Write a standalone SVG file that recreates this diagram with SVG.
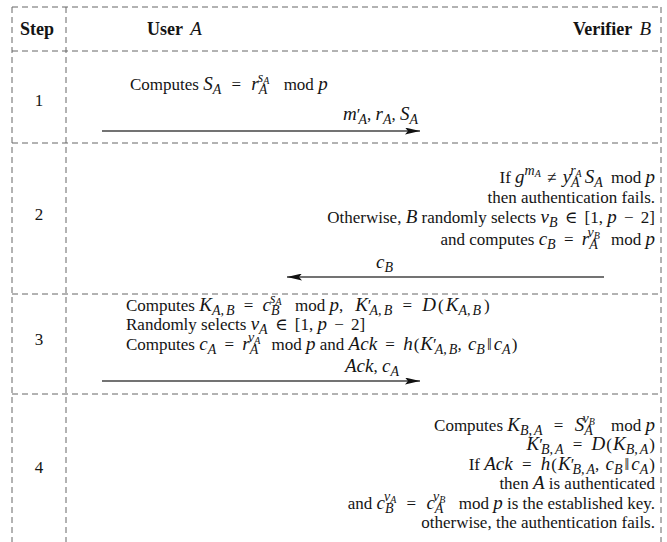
<svg xmlns="http://www.w3.org/2000/svg" width="667" height="542" viewBox="0 0 667 542" font-family="'Liberation Serif', 'Times New Roman', 'DejaVu Serif', serif">
<style>
text{font-family:'Liberation Serif','Times New Roman','DejaVu Serif',serif}
.t{font-size:17px;fill:#141414}
.h{font-size:18px}
.b{font-weight:bold}
.m{font-style:italic;font-size:19px}
.s{font-style:italic;font-size:14px}
.ss{font-style:italic;font-size:10px}
.g line{stroke:#666;stroke-width:1;stroke-dasharray:6 4;fill:none}
.c line{stroke:#444;stroke-width:1.6}
</style>
<defs>
<marker id="ah" viewBox="0 0 15 7" refX="15" refY="3.5" markerWidth="15" markerHeight="7" markerUnits="userSpaceOnUse" orient="auto">
<path d="M0,0 L15,3.5 L0,7 L3,3.5 Z" fill="#111"/>
</marker>
</defs>
<g id="grid" class="g">
<line x1="12" y1="7" x2="661" y2="7"/>
<line x1="12" y1="7" x2="12" y2="542"/>
<line x1="66" y1="7" x2="66" y2="542"/>
<line x1="661" y1="7" x2="661" y2="542"/>
<line x1="12" y1="51" x2="661" y2="51"/>
<line x1="12" y1="143" x2="661" y2="143"/>
<line x1="12" y1="294" x2="661" y2="294"/>
<line x1="12" y1="394" x2="661" y2="394"/>
</g>
<g id="header" class="t h">
<text x="20" y="35" class="b">Step</text>
<text x="147" y="35"><tspan class="b">User </tspan><tspan class="m" dx="3">A</tspan></text>
<text x="651" y="35" text-anchor="end"><tspan class="b">Verifier </tspan><tspan class="m" dx="3">B</tspan></text>
</g>
<g id="steps" class="t" text-anchor="middle">
<text x="39" y="106">1</text>
<text x="39" y="220">2</text>
<text x="39" y="345">3</text>
<text x="39" y="473">4</text>
</g>
<g id="step1-userA" class="t">
<text x="130" y="90">Computes <tspan class="m">S</tspan><tspan class="s" dy="4">A</tspan><tspan dy="-4" dx="6"> = </tspan><tspan class="m" dx="6">r</tspan><tspan class="s" dy="4">A</tspan><tspan class="s" dx="-9.5" dy="-12">s</tspan><tspan class="ss" dy="2">A</tspan><tspan dy="6" dx="10"> mod </tspan><tspan class="m">p</tspan></text>
</g>
<g id="step2-verifierB" class="t" text-anchor="end">
<text x="655" y="183">If <tspan class="m">g</tspan><tspan class="s" dy="-8">m</tspan><tspan class="ss" dy="2">A</tspan><tspan dy="6" dx="2"> ≠ </tspan><tspan class="m" dx="2">y</tspan><tspan class="s" dy="4">A</tspan><tspan class="s" dx="-9.5" dy="-12">r</tspan><tspan class="ss" dy="2">A</tspan><tspan class="m" dy="6" dx="3">S</tspan><tspan class="s" dy="4">A</tspan><tspan dy="-4" dx="4"> mod </tspan><tspan class="m">p</tspan></text>
<text x="655" y="203">then authentication fails.</text>
<text x="655" y="223">Otherwise, <tspan class="m">B</tspan> randomly selects <tspan class="m">v</tspan><tspan class="s" dy="4">B</tspan><tspan dy="-4" dx="3"> ∈ </tspan><tspan dx="3">[1, </tspan><tspan class="m">p</tspan><tspan dx="3"> − </tspan><tspan dx="3">2]</tspan></text>
<text x="655" y="245">and computes <tspan class="m">c</tspan><tspan class="s" dy="4">B</tspan><tspan dy="-4" dx="4"> = </tspan><tspan class="m" dx="4">r</tspan><tspan class="s" dy="4">A</tspan><tspan class="s" dx="-9.5" dy="-12">v</tspan><tspan class="ss" dy="2">B</tspan><tspan dy="6" dx="7"> mod </tspan><tspan class="m">p</tspan></text>
</g>
<g id="step3-userA" class="t">
<text x="126" y="311">Computes <tspan class="m">K</tspan><tspan class="s" dy="4">A,<tspan dx="2">B</tspan></tspan><tspan dy="-4" dx="5"> = </tspan><tspan class="m" dx="5">c</tspan><tspan class="s" dy="4">B</tspan><tspan class="s" dx="-9.5" dy="-12">s</tspan><tspan class="ss" dy="2">A</tspan><tspan dy="6" dx="9"> mod </tspan><tspan class="m">p</tspan>,<tspan class="m" dx="12">K</tspan>′<tspan class="s" dx="-2" dy="4">A,<tspan dx="2">B</tspan></tspan><tspan dy="-4" dx="6"> = </tspan><tspan class="m" dx="6">D</tspan><tspan dx="2">(</tspan><tspan class="m" dx="2">K</tspan><tspan class="s" dy="4">A,<tspan dx="2">B</tspan></tspan><tspan dy="-4" dx="3">)</tspan></text>
<text x="126" y="330">Randomly selects <tspan class="m">v</tspan><tspan class="s" dy="4">A</tspan><tspan dy="-4" dx="3"> ∈ </tspan><tspan dx="3">[1, </tspan><tspan class="m">p</tspan><tspan dx="3"> − </tspan><tspan dx="3">2]</tspan></text>
<text x="126" y="350">Computes <tspan class="m">c</tspan><tspan class="s" dy="4">A</tspan><tspan dy="-4" dx="4"> = </tspan><tspan class="m" dx="4">r</tspan><tspan class="s" dy="4">A</tspan><tspan class="s" dx="-9.5" dy="-12">v</tspan><tspan class="ss" dy="2">A</tspan><tspan dy="6" dx="7"> mod </tspan><tspan class="m">p</tspan> and <tspan class="m">Ack</tspan><tspan dx="4"> = </tspan><tspan class="m" dx="4">h</tspan><tspan dx="1">(</tspan><tspan class="m" dx="1">K</tspan>′<tspan class="s" dx="-2" dy="4">A,<tspan dx="2">B</tspan></tspan><tspan dy="-4">, </tspan><tspan class="m" dx="2">c</tspan><tspan class="s" dy="4">B</tspan><tspan dy="-4" dx="2">‖</tspan><tspan class="m" dx="2">c</tspan><tspan class="s" dy="4">A</tspan><tspan dy="-4" dx="1">)</tspan></text>
</g>
<g id="step4-verifierB" class="t" text-anchor="end">
<text x="655" y="431">Computes <tspan class="m">K</tspan><tspan class="s" dy="4">B,<tspan dx="2">A</tspan></tspan><tspan dy="-4" dx="7"> = </tspan><tspan class="m" dx="7">S</tspan><tspan class="s" dy="4">A</tspan><tspan class="s" dx="-9.5" dy="-12">v</tspan><tspan class="ss" dy="2">B</tspan><tspan dy="6" dx="12"> mod </tspan><tspan class="m">p</tspan></text>
<text x="655" y="450"><tspan class="m">K</tspan>′<tspan class="s" dx="-2" dy="4">B,<tspan dx="2">A</tspan></tspan><tspan dy="-4" dx="5"> = </tspan><tspan class="m" dx="5">D</tspan><tspan dx="1">(</tspan><tspan class="m" dx="1">K</tspan><tspan class="s" dy="4">B,<tspan dx="2">A</tspan></tspan><tspan dy="-4" dx="1">)</tspan></text>
<text x="655" y="470">If <tspan class="m">Ack</tspan><tspan dx="5"> = </tspan><tspan class="m" dx="5">h</tspan><tspan dx="1">(</tspan><tspan class="m" dx="1">K</tspan>′<tspan class="s" dx="-2" dy="4">B,<tspan dx="2">A</tspan></tspan><tspan dy="-4">, </tspan><tspan class="m" dx="2">c</tspan><tspan class="s" dy="4">B</tspan><tspan dy="-4" dx="2">‖</tspan><tspan class="m" dx="2">c</tspan><tspan class="s" dy="4">A</tspan><tspan dy="-4" dx="1">)</tspan></text>
<text x="655" y="489">then <tspan class="m">A</tspan> is authenticated</text>
<text x="655" y="509">and <tspan class="m">c</tspan><tspan class="s" dy="4">B</tspan><tspan class="s" dx="-9.5" dy="-12">v</tspan><tspan class="ss" dy="2">A</tspan><tspan dy="6" dx="6"> = </tspan><tspan class="m" dx="6">c</tspan><tspan class="s" dy="4">A</tspan><tspan class="s" dx="-9.5" dy="-12">v</tspan><tspan class="ss" dy="2">B</tspan><tspan dy="6" dx="9"> mod </tspan><tspan class="m">p</tspan> is the established key.</text>
<text x="655" y="528">otherwise, the authentication fails.</text>
</g>
<g id="connectors" class="c">
<line x1="102" y1="131" x2="420" y2="131" marker-end="url(#ah)"/>
<line x1="604" y1="277" x2="287" y2="277" marker-end="url(#ah)"/>
<line x1="102" y1="381" x2="420" y2="381" marker-end="url(#ah)"/>
</g>
<g id="connector-labels" class="t">
<text x="343" y="120"><tspan class="m">m</tspan>′<tspan class="s" dx="-2" dy="4">A</tspan><tspan dy="-4">, </tspan><tspan class="m">r</tspan><tspan class="s" dy="4">A</tspan><tspan dy="-4">, </tspan><tspan class="m">S</tspan><tspan class="s" dy="4">A</tspan></text>
<text x="376" y="268"><tspan class="m">c</tspan><tspan class="s" dy="4">B</tspan></text>
<text x="345" y="372"><tspan class="m">Ack</tspan>, <tspan class="m">c</tspan><tspan class="s" dy="4">A</tspan></text>
</g>
</svg>
